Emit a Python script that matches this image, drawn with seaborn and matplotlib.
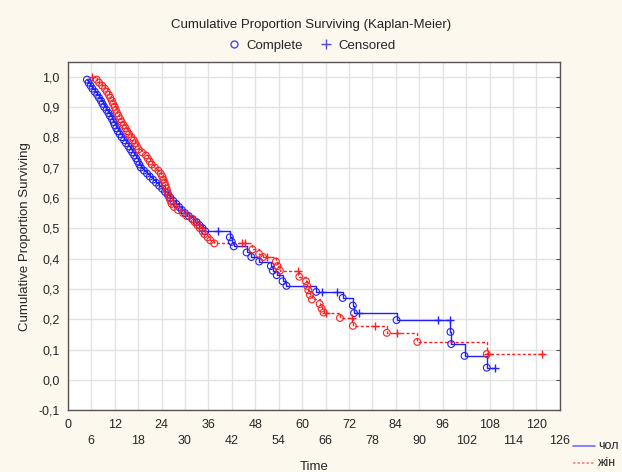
import numpy as np
import pandas as pd
import matplotlib
matplotlib.use("Agg")
import matplotlib.pyplot as plt
from matplotlib.lines import Line2D
import seaborn as sns

# ---- data ----
blue_event_t = [4.9, 5.3, 5.8, 6.3, 6.9, 7.5, 8.0, 8.5, 8.9, 9.3, 9.9, 10.4, 10.8, 11.3, 11.7,
                12.0, 12.4, 12.8, 13.3, 13.8, 14.4, 14.9, 15.5, 16.0, 16.5, 17.0, 17.5, 17.9,
                18.3, 18.7, 19.5, 20.3, 21.0, 21.8, 22.6, 23.4, 24.2, 24.9, 25.6, 26.3, 27.0,
                27.8, 28.5, 29.2, 30.0, 31.0, 32.0, 33.0, 33.7, 34.5, 35.2,
                41.5, 42.0, 42.5, 45.8, 47.0, 49.0, 52.0, 52.5, 53.5, 55.0, 56.0,
                63.6, 70.4, 73.0, 73.3, 84.2, 98.0, 98.2, 101.6, 107.3]
blue_event_s = [0.99, 0.98, 0.97, 0.96, 0.95, 0.94, 0.93, 0.92, 0.91, 0.90, 0.89, 0.88, 0.87, 0.86, 0.85,
                0.84, 0.83, 0.82, 0.81, 0.80, 0.79, 0.78, 0.77, 0.76, 0.75, 0.74, 0.73, 0.72,
                0.71, 0.70, 0.69, 0.68, 0.67, 0.66, 0.65, 0.64, 0.63, 0.62, 0.61, 0.60, 0.59,
                0.58, 0.57, 0.56, 0.55, 0.54, 0.53, 0.52, 0.51, 0.50, 0.49,
                0.47, 0.455, 0.44, 0.42, 0.405, 0.39, 0.375, 0.36, 0.345, 0.325, 0.31,
                0.29, 0.27, 0.245, 0.22, 0.197, 0.158, 0.118, 0.079, 0.04]
blue_cens_t = [38.5, 65.0, 69.0, 74.5, 94.8, 97.8, 109.3]
blue_cens_s = [0.49, 0.29, 0.29, 0.22, 0.197, 0.197, 0.04]

red_event_t = [7.4, 8.0, 8.8, 9.5, 10.0, 10.5, 10.9, 11.3, 11.6, 12.0, 12.3, 12.6, 13.0, 13.4,
               13.8, 14.3, 14.8, 15.2, 15.7, 16.3, 16.9, 17.3, 17.7, 18.1, 19.0, 20.0, 20.5,
               21.0, 21.5, 22.3, 23.2, 23.8, 24.2, 24.5, 24.8, 25.0, 25.3, 25.5, 25.8, 26.0,
               26.3, 26.6, 27.2, 28.2, 29.5, 30.5, 31.8, 32.5, 33.2, 33.8, 34.5, 35.0, 35.8,
               36.5, 37.5, 47.3, 49.0, 50.0, 53.3, 53.7, 54.3, 59.3, 61.0, 61.3, 61.6, 62.0,
               62.5, 64.5, 65.0, 65.5, 69.7, 73.0, 81.7, 89.5, 107.3]
red_event_s = [0.99, 0.98, 0.97, 0.96, 0.95, 0.94, 0.93, 0.92, 0.91, 0.90, 0.89, 0.88, 0.87, 0.86,
               0.85, 0.84, 0.83, 0.82, 0.81, 0.80, 0.79, 0.78, 0.77, 0.76, 0.75, 0.74, 0.73,
               0.72, 0.71, 0.70, 0.69, 0.68, 0.67, 0.66, 0.65, 0.64, 0.63, 0.62, 0.61, 0.60,
               0.59, 0.58, 0.57, 0.56, 0.55, 0.54, 0.53, 0.52, 0.51, 0.50, 0.49, 0.48, 0.47,
               0.46, 0.45, 0.43, 0.415, 0.405, 0.39, 0.375, 0.36, 0.34, 0.325, 0.31, 0.295, 0.28,
               0.265, 0.25, 0.235, 0.222, 0.204, 0.178, 0.155, 0.125, 0.085]
red_cens_t = [6.1, 44.5, 45.3, 50.9, 59.0, 66.0, 72.7, 78.6, 84.2, 107.6, 121.4]
red_cens_s = [1.0, 0.45, 0.45, 0.405, 0.36, 0.222, 0.204, 0.178, 0.155, 0.085, 0.085]

x_ticks = list(range(0, 127, 6))
y_ticks = [-0.1, 0.0, 0.1, 0.2, 0.3, 0.4, 0.5, 0.6, 0.7, 0.8, 0.9, 1.0]
group_names = ["чол", "жін"]

BLUE = "#1f1fff"
RED = "#ff1f1f"
BG = "#fdf8ee"

sns.set_style("white")
plt.rcParams["font.family"] = ["Liberation Sans", "DejaVu Sans"]

fig = plt.figure(figsize=(6.22, 4.72), dpi=100, facecolor=BG)
ax = fig.add_axes([0.109, 0.131, 0.791, 0.737])
ax.set_facecolor("white")


def curve(et, es, ct, cs):
    df = pd.DataFrame({"t": list(et) + list(ct), "s": list(es) + list(cs)})
    return df.sort_values("t").reset_index(drop=True)


blue_df = curve(blue_event_t, blue_event_s, blue_cens_t, blue_cens_s)
red_df = curve(red_event_t, red_event_s, red_cens_t, red_cens_s)

sns.lineplot(data=blue_df, x="t", y="s", ax=ax, color=BLUE, lw=1.0,
             drawstyle="steps-post", estimator=None, sort=True, zorder=3)
sns.lineplot(data=red_df, x="t", y="s", ax=ax, color=RED, lw=1.0,
             drawstyle="steps-post", estimator=None, sort=True, zorder=3,
             linestyle=(0, (2.2, 1.6)))

sns.scatterplot(x=blue_event_t, y=blue_event_s, ax=ax, marker="o", s=24,
                facecolor="none", edgecolor=BLUE, linewidth=0.8, zorder=4)
sns.scatterplot(x=red_event_t, y=red_event_s, ax=ax, marker="o", s=24,
                facecolor="none", edgecolor=RED, linewidth=0.8, zorder=4)
sns.scatterplot(x=blue_cens_t, y=blue_cens_s, ax=ax, marker="+", s=40,
                color=BLUE, linewidth=1.0, zorder=4)
sns.scatterplot(x=red_cens_t, y=red_cens_s, ax=ax, marker="+", s=40,
                color=RED, linewidth=1.0, zorder=4)

ax.set_xlim(0, 126)
ax.set_ylim(-0.1, 1.047)
ax.set_xticks(x_ticks)
ax.set_xticklabels([str(v) if (v // 6) % 2 == 0 else "\n" + str(v) for v in x_ticks])
ax.set_yticks(y_ticks)
ax.set_yticklabels([f"{v:.1f}".replace(".", ",") for v in y_ticks])
ax.grid(True, color="#e2e2e2", lw=1.0)
ax.set_axisbelow(True)
ax.tick_params(axis="both", direction="in", length=3, labelsize=9, color="#555555",
               right=True, pad=6)
for lab in ax.get_xticklabels():
    lab.set_linespacing(1.5)
for sp in ax.spines.values():
    sp.set_color("#555555")
    sp.set_linewidth(1.0)

ax.set_xlabel("Time", fontsize=9.5, labelpad=10)
ax.set_ylabel("Cumulative Proportion Surviving", fontsize=9.5, labelpad=5)

fig.text(0.5, 0.947, "Cumulative Proportion Surviving (Kaplan-Meier)", ha="center",
         va="center", fontsize=9.5, color="#222222")
handles = [Line2D([], [], marker="o", ls="none", mfc="none", mec="#4a4aee", ms=5, mew=1.0),
           Line2D([], [], marker="+", ls="none", color="#4a4aee", ms=7, mew=1.0)]
fig.legend(handles, ["Complete", "Censored"], loc="center", bbox_to_anchor=(0.5, 0.903),
           ncol=2, frameon=False, fontsize=9.5, handletextpad=0.3, columnspacing=1.2,
           handlelength=1.2)

# group legend at bottom right
fig.add_artist(Line2D([0.922, 0.956], [0.055, 0.055], color="#6f6fff", lw=1.2))
fig.add_artist(Line2D([0.922, 0.956], [0.020, 0.020], color="#ff8080", lw=1.2,
                      linestyle=(0, (1.5, 1.2))))
fig.text(0.962, 0.055, group_names[0], ha="left", va="center", fontsize=9)
fig.text(0.962, 0.020, group_names[1], ha="left", va="center", fontsize=9)

fig.savefig("out.png", dpi=100, facecolor=BG)
